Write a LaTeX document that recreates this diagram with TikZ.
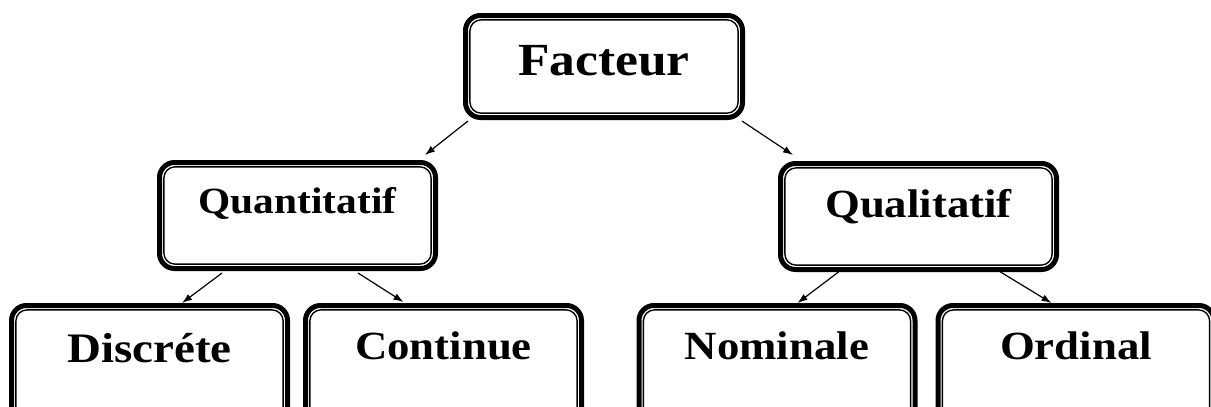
\documentclass[tikz,border=0pt]{standalone}
\usepackage{fontspec}
\setmainfont{Liberation Serif}[FakeStretch=1.12]
\usetikzlibrary{arrows.meta, positioning}
\tikzstyle{box} = [draw, line width=2.5pt, rounded corners=7.5pt, inner sep=0pt, minimum width=138pt]
\tikzstyle{root} = [box, minimum width=138.5pt, minimum height=51pt, text height=30.1pt, text depth=20.9pt, font=\fontsize{23}{27}\selectfont\bfseries]
\tikzstyle{kind} = [box, minimum height=53pt, text height=26.9pt, text depth=26.1pt, font=\fontsize{20}{24}\selectfont\bfseries]
\tikzstyle{leaf} = [box, minimum height=60pt, text height=26.9pt, text depth=33.1pt, font=\fontsize{20}{24}\selectfont\bfseries]
\tikzstyle{inner} = [line width=0.7pt, rounded corners=5.5pt]

\begin{document}
\begin{tikzpicture}[>={Latex[length=5pt,width=3.5pt]}]
    \path [use as bounding box, clip] (0,0) rectangle (605.5pt,-203.5pt);
    \node [root] at (302pt,-33.25pt) (fact) {Facteur};
    \node [kind, below left=20pt and 12.5pt of fact, text height=25.4pt, text depth=27.6pt, font=\fontsize{18.5}{22}\selectfont\bfseries] (quan) {Quantitatif};
    \node [kind, below right=20.5pt and 16.5pt of fact] (qual) {Qualitatif};
    \node [leaf, below left=16pt and 3.75pt of quan.south, text height=28.4pt, text depth=31.6pt, font=\fontsize{21}{25}\selectfont\bfseries] (disc) {Discréte};
    \node [leaf, below right=16pt and 2.75pt of quan.south] (cont) {Continue};
    \node [leaf, below left=15.5pt and 0.5pt of qual.south] (nomi) {Nominale};
    \node [leaf, below right=15.5pt and 8.5pt of qual.south] (ordi) {Ordinal};
    \foreach \n in {fact,quan,qual,disc,cont,nomi,ordi}
        \draw [inner] ([shift={(3.45pt,3.45pt)}]\n.south west) rectangle ([shift={(-3.45pt,-3.45pt)}]\n.north east);
    \draw [->, line width=0.6pt] ([shift={(2.5pt,-0.5pt)}]fact.south west) -- ([shift={(-6.5pt,2.5pt)}]quan.north east);
    \draw [->, line width=0.6pt] ([shift={(-1.5pt,-0.5pt)}]fact.south east) -- ([shift={(7.5pt,3pt)}]qual.north west);
    \draw [->, line width=0.6pt] ([shift={(-37.75pt,-1pt)}]quan.south) -- ([xshift=16.25pt]disc.north);
    \draw [->, line width=0.6pt] ([shift={(30.25pt,-1pt)}]quan.south) -- ([shift={(-20pt,0.5pt)}]cont.north);
    \draw [->, line width=0.6pt] ([xshift=-40pt]qual.south) -- ([xshift=10.25pt]nomi.north);
    \draw [->, line width=0.6pt] ([xshift=41pt]qual.south) -- ([xshift=-12.25pt]ordi.north);
\end{tikzpicture}
\end{document}
